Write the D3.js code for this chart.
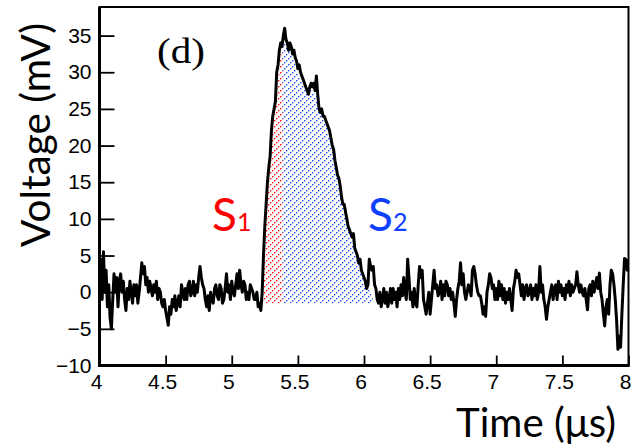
<!DOCTYPE html>
<html><head><meta charset="utf-8">
<script src="https://cdn.jsdelivr.net/npm/d3@7"></script>
<style>body{margin:0;background:#fff} svg{display:block}</style>
</head><body><svg id="c" width="638" height="448"></svg>
<script>
// Waveform: voltage (mV) sampled every 0.01 us from 4.00 us to 8.00 us (one row = 0.1 us)
const startTime = 4.0;
const timeStep = 0.01;
const voltage = [
  1, 4.5, -1, 5.5, 0, 3, -2, 1, -3.5, -5,        // 4.0
  -1, 2.5, 0, 2, -2, 1.5, 2.5, 0, 1.5, -1,       // 4.1
  -2.5, 0.5, -1, 1.5, 0, -1.5, 1, -0.5, 1, -1.5, // 4.2
  0, 2, 4, 2.5, 3.5, 1, 2, 0, 1.5, 0.5,          // 4.3
  -0.5, 1, 0, 1.5, -1, 0.5, 0, -1.5, -2, -1,     // 4.4
  -2.5, -3.5, -4.5, -2, -3, -1, -2, -0.5, -2.5, -1.5, // 4.5
  -0.5, -2, 1, 0, -1, 0.5, -1, 1, 1.5, -0.5,     // 4.6
  0, 1.5, -0.5, 1, 0, 2, 3.5, 2, 1, 0.5,         // 4.7
  -1, -2, -0.5, -2.5, 0, -1, -1.5, 0.5, 1, -0.5, // 4.8
  -1, 1, 0.5, -1.5, -1, 0.5, 2.5, 0, 1, -1,      // 4.9
  1.5, 0, -0.5, 1, 2.5, 0.5, 3, 1, 0, 1.5,       // 5.0
  1, -1, 0, -1, 1, 0.5, 0, -1, -1, 0,            // 5.1
  -2, -1.5, -2.5, 0, 5, 9, 12, 15, 17, 18.5,     // 5.2
  22, 24, 25, 26, 30, 31, 33, 34, 33.5, 35,      // 5.3
  36, 34.5, 34, 33, 34, 33.5, 32.5, 33, 32, 31.5,// 5.4
  30.5, 31, 30, 29.5, 29, 28.5, 28, 27.5, 27, 28,// 5.5
  28.5, 28, 28.5, 27.5, 29.5, 27, 25, 24.5, 25, 24, // 5.6
  24, 23.5, 23, 22.5, 22, 21, 20, 19.5, 18, 17,  // 5.7
  16, 15.5, 14.5, 13, 12, 12, 11, 10, 9, 8.5,    // 5.8
  8, 7.5, 8, 6, 5.5, 5, 4, 4.5, 3, 2.5,          // 5.9
  2, 1.5, 0.5, 1, 4.5, 3.5, 3, 3.5, 1, 0.5,      // 6.0
  -1, -1.5, 0, -2, -1, 0.5, -1.5, 0, -2, -1,     // 6.1
  0.5, -1.5, 0.5, -1, 0, -2, 0.5, -1, 1, -0.5,   // 6.2
  2, 0, -1, 4.5, 2, -1, 0, -2, 0.5, -1.5,        // 6.3
  -2, 1, 3.5, 2, 3, -1, -2, -3, -1.5, 0,         // 6.4
  -3, -1, 1, 3, 0.5, 1, -0.5, 0, 1.5, -1,        // 6.5
  1, -0.5, 1.5, 1, -0.5, 0.5, -1, 0, -1.5, -3.3, // 6.6
  -1, 0.5, 1.5, 4, 1, 2.5, 0, -1, 0, 1,          // 6.7
  0.5, -0.5, 3, 3.5, 2.5, 1, 0, -0.5, -0.5, -1.5,// 6.8
  -3, -2, -3.3, 0, 1, 2.5, 2, 0.5, 1, -1,        // 6.9
  0.5, -1, 1.5, -0.5, 1, -1, 0.5, -1.5, 0, -1,   // 7.0
  0.5, -1, -2.5, 0.5, 1.5, 3, 2, 2.5, 1, -0.5,   // 7.1
  1, -1, 0.5, 1, -0.5, 0, 1, -1, 0.5, -0.5,      // 7.2
  1, -1, 0, 3.5, 0, 1, -1, -2, -3.7, -2,         // 7.3
  -1, 0, 1, -1, 0.5, 1, -1, 1.5, 0, 1,           // 7.4
  -0.5, 0.5, -1, 1, 0, 1.5, -0.5, 1, 0, 0.5,     // 7.5
  1, 2.8, 1, 0, 1, 0, -0.5, 0.5, -1, -2.4,       // 7.6
  0.5, 1, -0.5, 1.5, 0, 1, 2, 0.5, 2.6, 0,       // 7.7
  -1, -3, -4.6, -2, -1, -3, 1, 3, 2.5, 1,        // 7.8
  -1, -3.8, -7.8, -6, -7.5, -3, 1, 4.6, 4.5, 3,  // 7.9
  4.5                                            // 8.0
];
// Hatched integration regions (upper boundary)
const s1Time = [5.225, 5.25, 5.27, 5.29, 5.31, 5.33, 5.35, 5.37, 5.385];
const s1Volt = [-1.5, 7, 13, 17.5, 22.5, 25, 29, 32.5, 33.5];
const s2Time = [5.385, 5.40, 5.45, 5.50, 5.55, 5.60, 5.64, 5.68, 5.72, 5.76, 5.80, 5.84, 5.88, 5.92, 5.96, 6.00, 6.04, 6.08];
const s2Volt = [33.5, 34, 32.5, 30, 28, 27.5, 27, 24, 22.5, 19.5, 15.5, 12, 9, 6.5, 4.2, 2.2, 0.3, -1.5];
const hatchBase = -1.5;

const xTicks = [4, 4.5, 5, 5.5, 6, 6.5, 7, 7.5, 8];
const yTicks = [-10, -5, 0, 5, 10, 15, 20, 25, 30, 35];
const xMinor = d3.range(40, 81).map(d => d / 10);
const yMinor = d3.range(-10, 39);

const svg = d3.select('#c');
const x = d3.scaleLinear().domain([4, 8]).range([99.5, 628.5]);
const y = d3.scaleLinear().domain([-10, 38.9]).range([365.5, 7]);

// dotted diagonal hatch patterns ("/" direction)
const defs = svg.append('defs');
function hatch(id, color) {
  const p = defs.append('pattern').attr('id', id).attr('patternUnits', 'userSpaceOnUse')
    .attr('width', 6).attr('height', 6);
  [[0, 4], [2, 2], [4, 0]].forEach(([px, py]) =>
    p.append('rect').attr('x', px).attr('y', py).attr('width', 1.35).attr('height', 1.35).attr('fill', color));
}
hatch('hr', '#ff0000');
hatch('hb', '#1040ff');
defs.append('clipPath').attr('id', 'plot').append('rect')
  .attr('x', 99.5).attr('y', 7).attr('width', 529).attr('height', 358.5);

const area = d3.area().x(d => x(d[0])).y0(y(hatchBase)).y1(d => y(d[1]));
svg.append('path').datum(s1Time.map((t, i) => [t, s1Volt[i]])).attr('d', area).attr('fill', 'url(#hr)');
svg.append('path').datum(s2Time.map((t, i) => [t, s2Volt[i]])).attr('d', area).attr('fill', 'url(#hb)');

// waveform
const pts = voltage.map((v, i) => [startTime + i * timeStep, v]);
svg.append('path').datum(pts).attr('clip-path', 'url(#plot)')
  .attr('d', d3.line().x(d => x(d[0])).y(d => y(d[1])))
  .attr('fill', 'none').attr('stroke', '#000').attr('stroke-width', 3).attr('stroke-linejoin', 'round');

// axes
const fontT = 'Liberation Sans, Arial, sans-serif';
const gy = svg.append('g').attr('transform', 'translate(99.5,0)');
gy.call(d3.axisLeft(y).tickValues(yMinor).tickSizeInner(-7.5).tickSizeOuter(0).tickFormat(''));
gy.call(d3.axisLeft(y).tickValues(yTicks).tickSizeInner(-15).tickSizeOuter(0).tickPadding(8));
const gx = svg.append('g').attr('transform', 'translate(0,365.5)');
gx.call(d3.axisBottom(x).tickValues(xMinor).tickSizeInner(-5).tickSizeOuter(0).tickFormat(''));
gx.call(d3.axisBottom(x).tickValues(xTicks).tickSizeInner(-10).tickSizeOuter(0).tickPadding(8.6).tickFormat(d3.format('')));
svg.selectAll('.domain').remove();
svg.selectAll('.tick line').attr('stroke', '#000').attr('stroke-width', 1.8);
svg.selectAll('.tick text').attr('font-family', fontT).attr('font-size', 21).attr('fill', '#000');
gx.selectAll('.tick text').attr('dx', -3.5);

// frame
svg.append('rect').attr('x', 99.5).attr('y', 7).attr('width', 529).attr('height', 358.5)
  .attr('fill', 'none').attr('stroke', '#000').attr('stroke-width', 2);
svg.append('line').attr('x1', 99.5).attr('x2', 99.5).attr('y1', 7).attr('y2', 366.5).attr('stroke', '#000').attr('stroke-width', 3);
svg.append('line').attr('x1', 98).attr('x2', 629.5).attr('y1', 365.5).attr('y2', 365.5).attr('stroke', '#000').attr('stroke-width', 3);

function fitWidth(sel, target) {
  const w = sel.node().getComputedTextLength();
  sel.attr('font-size', parseFloat(sel.attr('font-size')) * target / w);
}
const fontL = 'Lato, "Open Sans", sans-serif';
const yl = svg.append('text').attr('transform', 'translate(50,135) rotate(-90)')
  .attr('text-anchor', 'middle').attr('font-family', fontL).attr('font-size', 40).text('Voltage (mV)');
fitWidth(yl, 224);
const xl = svg.append('text').attr('x', 616).attr('y', 437)
  .attr('text-anchor', 'end').attr('font-family', fontL).attr('font-size', 40).text('Time (μs)');
fitWidth(xl, 160);

const dl = svg.append('text').attr('font-family', 'Liberation Serif, Times New Roman, serif')
  .attr('font-size', 35).text('(d)');
const dw = dl.node().getComputedTextLength();
dl.attr('transform', `translate(157,63) scale(${48 / dw},1)`);

function sLabel(xp, color, sub) {
  const t = svg.append('text').attr('x', xp).attr('y', 231).attr('fill', color).attr('font-family', fontL);
  t.append('tspan').attr('font-size', 46).text('S');
  t.append('tspan').attr('font-size', 25).text(sub);
}
sLabel(212, '#ff0000', '1');
sLabel(368, '#1040ff', '2');
</script></body></html>
